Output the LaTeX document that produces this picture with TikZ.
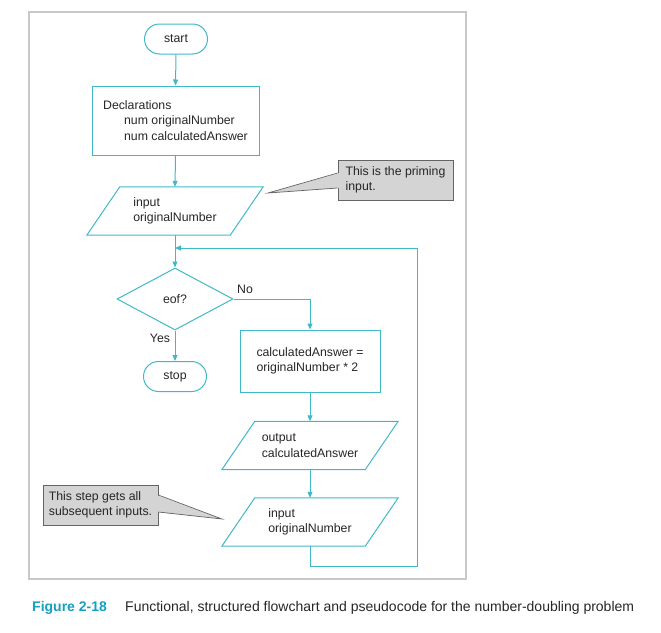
\documentclass[tikz,border=0pt]{standalone}
\usepackage{fontspec}
\setmainfont{Liberation Sans}
\usetikzlibrary{arrows.meta,shapes.geometric,shapes.misc}
\definecolor{flow}{RGB}{64,184,198}
\definecolor{capt}{RGB}{20,160,190}
\definecolor{callfill}{RGB}{212,212,212}
\definecolor{calldraw}{RGB}{100,100,100}
\definecolor{framec}{RGB}{200,200,200}
\newcommand{\paragram}[1]{\draw[flowline] ([xshift=16.5pt]#1.north west) -- ([xshift=16.5pt]#1.north east) -- ([xshift=-16.5pt]#1.south east) -- ([xshift=-16.5pt]#1.south west) -- cycle;}
\begin{document}
\begin{tikzpicture}[x=1pt,y=-1pt,
  font=\fontsize{12.3}{15.5}\selectfont,
  every node/.style={inner sep=0pt, text=black!85},
  flowline/.style={draw=flow, line width=1pt},
  arr/.style={flowline, -{Triangle[width=5pt,length=6pt]}},
  term/.style={rounded rectangle, draw=flow, line width=1pt, minimum width=63pt, minimum height=30pt},
  procbox/.style={rectangle, draw=flow, line width=1pt, align=left},
  iobox/.style={rectangle, align=left, minimum width=143pt, minimum height=48pt},
  decision/.style={diamond, draw=flow, line width=1pt, minimum width=116pt, minimum height=62pt, aspect=1.87},
  callbox/.style={rectangle, draw=calldraw, fill=callfill, line width=0.7pt, align=left, minimum width=115pt, minimum height=40pt},
  callline/.style={draw=calldraw, line width=0.7pt}
]
\useasboundingbox (0,0) rectangle (661,632);
\draw[framec, line width=1.3pt] (29,12) rectangle (466,579);

\node[term] (start) at (176,39) {start};
\node[procbox, minimum width=167pt, minimum height=69pt] (decl) at (175.5,120.5)
  {Declarations\\\hspace*{21pt}num originalNumber\\\hspace*{21pt}num calculatedAnswer};
\node[iobox] (in1) at (175,211) {input\\originalNumber};
\paragram{in1}
\node[decision] (dec) at (175,299) {eof?};
\coordinate (merge) at (175,248);
\node[procbox, minimum width=140pt, minimum height=62pt] (calc) at (310,361)
  {calculatedAnswer =\\originalNumber * 2};
\node[term] (stop) at (175,376.5) {stop};
\node (no) at (245,289) {No};
\node (yes) at (160,338) {Yes};
\node[iobox] (out) at (310,445.5) {output\\calculatedAnswer};
\paragram{out}
\node[iobox] (in2) at (310,522) {input\\originalNumber};
\paragram{in2}

\draw[arr] (start.south) -- (decl.north);
\draw[arr] (decl.south) -- (in1.north);
\draw[arr] (in1.south) -- (dec.north);
\draw[arr] (dec.east) -| (calc.north);
\draw[arr] (dec.south) -- (stop.north);
\draw[arr] (calc.south) -- (out.north);
\draw[arr] (out.south) -- (in2.north);
\coordinate (lb) at (310,566);
\coordinate (rb) at (417,566);
\coordinate (rt) at (417,248);
\draw[arr] (in2.south) -- (lb) -- (rb) -- (rt) -- (merge);

% callouts
\node[callbox] (c1) at (395.5,180) {This is the priming\\input.};
\coordinate (p1) at (268,193);
\fill[callfill] ([yshift=7pt,xshift=1.5pt]c1.west) -- (p1) -- ([yshift=-8pt,xshift=1.5pt]c1.west) -- cycle;
\draw[callline] ([yshift=7pt]c1.west) -- (p1) -- ([yshift=-8pt]c1.west);

\node[callbox] (c2) at (100.5,505) {This step gets all\\subsequent inputs.};
\coordinate (p2) at (222,519);
\fill[callfill] ([yshift=10pt,xshift=-1.5pt]c2.east) -- (p2) -- ([yshift=-7pt,xshift=-1.5pt]c2.east) -- cycle;
\draw[callline] ([yshift=10pt]c2.east) -- (p2) -- ([yshift=-7pt]c2.east);

% caption
\node[anchor=west, text=capt, font=\fontsize{14}{16}\selectfont\bfseries] (fig) at (32,608) {Figure 2-18};
\node[anchor=west, font=\fontsize{14}{16}\selectfont] (cap) at (125,608)
  {Functional, structured flowchart and pseudocode for the number-doubling problem};
\end{tikzpicture}
\end{document}
